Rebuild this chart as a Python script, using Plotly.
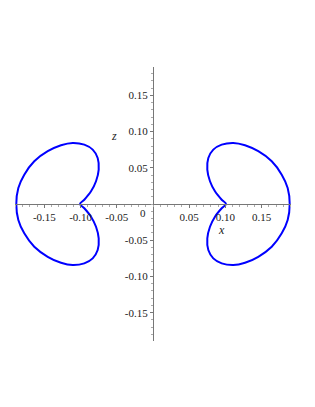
import plotly.graph_objects as go

# Right loop
right_x = [0.1008, 0.0949, 0.0856, 0.0787, 0.0750, 0.0764, 0.0833, 0.0949, 0.1109, 0.1271,
           0.1454, 0.1640, 0.1778, 0.1860, 0.1888, 0.1860, 0.1778, 0.1640, 0.1454, 0.1271,
           0.1109, 0.0949, 0.0833, 0.0764, 0.0750, 0.0787, 0.0856, 0.0949, 0.1008]
right_z = [0.0, 0.0059, 0.0175, 0.0314, 0.0474, 0.0635, 0.0750, 0.0819, 0.0843, 0.0811,
           0.0728, 0.0590, 0.0405, 0.0221, 0.0, -0.0221, -0.0405, -0.0590, -0.0728, -0.0811,
           -0.0843, -0.0819, -0.0750, -0.0635, -0.0474, -0.0314, -0.0175, -0.0059, 0.0]

# Left loop
left_x = [-0.1008, -0.0949, -0.0856, -0.0787, -0.0750, -0.0764, -0.0833, -0.0949, -0.1109, -0.1271,
          -0.1454, -0.1640, -0.1778, -0.1860, -0.1888, -0.1860, -0.1778, -0.1640, -0.1454, -0.1271,
          -0.1109, -0.0949, -0.0833, -0.0764, -0.0750, -0.0787, -0.0856, -0.0949, -0.1008]
left_z = [0.0, 0.0059, 0.0175, 0.0314, 0.0474, 0.0635, 0.0750, 0.0819, 0.0843, 0.0811,
          0.0728, 0.0590, 0.0405, 0.0221, 0.0, -0.0221, -0.0405, -0.0590, -0.0728, -0.0811,
          -0.0843, -0.0819, -0.0750, -0.0635, -0.0474, -0.0314, -0.0175, -0.0059, 0.0]

x_tickvals = [-0.15, -0.10, -0.05, 0.05, 0.10, 0.15]
x_ticktext = ["-0.15", "-0.10", "-0.05", "0.05", "0.10", "0.15"]
z_tickvals = [-0.15, -0.10, -0.05, 0.05, 0.10, 0.15]
z_ticktext = ["-0.15", "-0.10", "-0.05", "0.05", "0.10", "0.15"]

FONT = "Liberation Serif"
AXC = "#777777"

fig = go.Figure()
for xs, zs in [(right_x, right_z), (left_x, left_z)]:
    fig.add_trace(go.Scatter(x=xs, y=zs, mode="lines",
                             line=dict(color="#0000ff", width=2, shape="spline", smoothing=1.0),
                             hoverinfo="skip", showlegend=False))

axis_common = dict(
    showgrid=False, zeroline=False, showline=True, linecolor=AXC, linewidth=1.3,
    ticks="outside", ticklen=3, tickwidth=1, tickcolor=AXC,
    minor=dict(ticks="outside", ticklen=2, tickcolor="#aaaaaa", dtick=0.01, tick0=0, showgrid=False),
    tickfont=dict(family=FONT, size=11, color="#222222"),
    tickmode="array", anchor="free", position=0.5, fixedrange=True, automargin=False,
)

# the page body adds an 8px offset, so margins compensate
fig.update_layout(
    width=315, height=407,
    margin=dict(l=7, r=32, t=59, b=74, autoexpand=False),
    paper_bgcolor="white", plot_bgcolor="white",
    xaxis=dict(range=[-0.1906, 0.1906], tickvals=x_tickvals, ticktext=x_ticktext, **axis_common),
    yaxis=dict(range=[-0.189, 0.189], tickvals=z_tickvals, ticktext=z_ticktext, **axis_common),
    annotations=[
        dict(x=0, y=0, xref="x", yref="y", text="0", showarrow=False,
             xanchor="right", yanchor="top", xshift=-5, yshift=-1,
             font=dict(family=FONT, size=11, color="#222222")),
        dict(x=0.0945, y=-0.0352, xref="x", yref="y", text="<i>x</i>", showarrow=False,
             font=dict(family=FONT, size=12, color="#222222")),
        dict(x=-0.0539, y=0.094, xref="x", yref="y", text="<i>z</i>", showarrow=False,
             font=dict(family=FONT, size=12, color="#222222")),
    ],
)

fig.write_html("out.html")
